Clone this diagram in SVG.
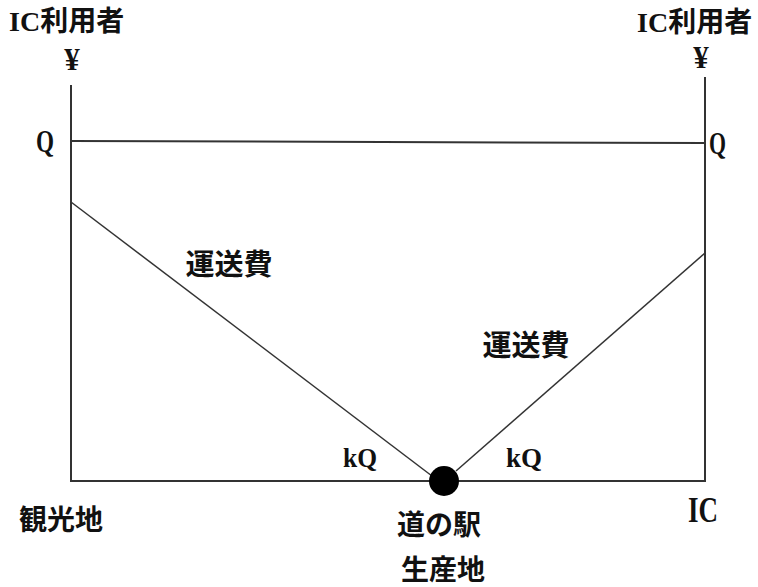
<svg xmlns="http://www.w3.org/2000/svg" width="758" height="587" viewBox="0 0 758 587">
<style>
.ln{stroke:#333;stroke-width:2;fill:none}
.dg{stroke:#333;stroke-width:1.5;fill:none}
.t{font-family:"Liberation Serif","Noto Sans CJK JP",serif;font-weight:bold;fill:#111}
.j{font-family:"Noto Sans CJK JP","Liberation Serif",sans-serif;font-weight:bold;fill:#111;font-size:28px}
</style>
<rect width="758" height="587" fill="#fff"/>
<g id="connectors">
<line class="ln" x1="71" y1="85" x2="71" y2="482"/>
<line class="ln" x1="705" y1="77" x2="705" y2="482"/>
<line class="ln" x1="70" y1="481" x2="706" y2="481"/>
<line class="ln" x1="71" y1="141" x2="705" y2="143"/>
<line class="dg" x1="71" y1="202" x2="432" y2="476"/>
<line class="dg" x1="456" y1="471" x2="705" y2="253"/>
</g>
<g id="michi-no-eki">
<circle cx="444" cy="481" r="15" fill="#000"/>
<text class="j" x="439" y="535" text-anchor="middle">道の駅</text>
<text class="j" x="443" y="580" text-anchor="middle">生産地</text>
</g>
<g id="left-axis">
<text class="j" x="9" y="31"><tspan class="t" style="font-size:28px">IC</tspan>利用者</text>
<text class="t" x="72" y="70" font-size="31" text-anchor="middle">¥</text>
<text class="t" x="36" y="152" font-size="32" textLength="18" lengthAdjust="spacingAndGlyphs">Q</text>
<text class="j" x="61" y="530" text-anchor="middle">観光地</text>
</g>
<g id="right-axis">
<text class="j" x="637" y="32"><tspan class="t" style="font-size:28px">IC</tspan>利用者</text>
<text class="t" x="701" y="68" font-size="31" text-anchor="middle">¥</text>
<text class="t" x="709" y="154" font-size="32" textLength="17" lengthAdjust="spacingAndGlyphs">Q</text>
<text class="t" x="688" y="522" font-size="35" textLength="30" lengthAdjust="spacingAndGlyphs">IC</text>
</g>
<g id="labels">
<text class="j" x="229" y="275" style="font-size:29px" text-anchor="middle">運送費</text>
<text class="j" x="526" y="356" style="font-size:29px" text-anchor="middle">運送費</text>
<text class="t" x="343" y="467" font-size="28" textLength="34" lengthAdjust="spacingAndGlyphs">kQ</text>
<text class="t" x="506" y="467" font-size="28" textLength="36" lengthAdjust="spacingAndGlyphs">kQ</text>
</g>
</svg>
